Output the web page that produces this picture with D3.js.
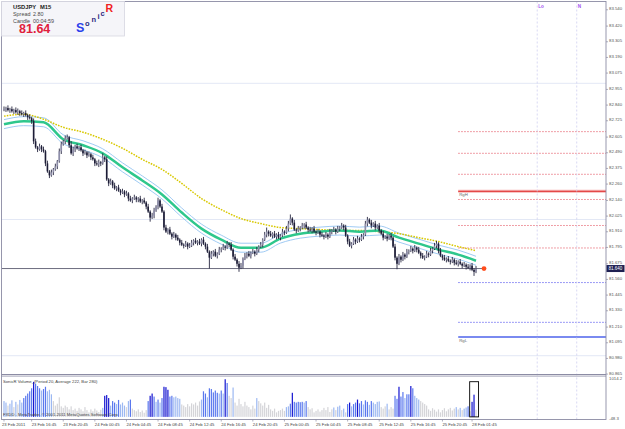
<!DOCTYPE html>
<html>
<head>
<meta charset="utf-8">
<title>USDJPY M15</title>
<script src="https://cdn.jsdelivr.net/npm/d3@7"></script>
<style>
    body { margin: 0; background: #fff; }
    svg { display: block; font-family: "Liberation Sans", Arial, sans-serif; }
</style>
</head>
<body>
<svg width="625" height="429"></svg>
<script>

    // M15 closes, 23 Feb 13:15 .. 28 Feb 02:15
    var closes = [
        82.810, 82.818, 82.803, 82.810, 82.795, 82.803, 82.788, 82.795, 82.781, 82.773,
        82.781, 82.766, 82.751, 82.744, 82.722, 82.574, 82.530, 82.515, 82.537, 82.515,
        82.501, 82.412, 82.353, 82.324, 82.346, 82.368, 82.390, 82.427, 82.501, 82.552,
        82.574, 82.596, 82.604, 82.545, 82.486, 82.515, 82.537, 82.523, 82.530, 82.508,
        82.486, 82.493, 82.471, 82.479, 82.456, 82.442, 82.412, 82.405, 82.420, 82.412,
        82.456, 82.442, 82.294, 82.265, 82.280, 82.250, 82.228, 82.235, 82.213, 82.198,
        82.206, 82.184, 82.191, 82.154, 82.140, 82.154, 82.162, 82.147, 82.154, 82.132,
        82.140, 82.125, 82.095, 82.058, 82.014, 82.029, 82.066, 82.095, 82.140, 82.095,
        82.058, 81.941, 81.911, 81.926, 81.896, 81.874, 81.889, 81.867, 81.852, 81.830,
        81.815, 81.808, 81.823, 81.801, 81.808, 81.830, 81.845, 81.830, 81.838, 81.823,
        81.852, 81.823, 81.801, 81.764, 81.720, 81.749, 81.764, 81.734, 81.749, 81.779,
        81.786, 81.801, 81.793, 81.823, 81.815, 81.779, 81.727, 81.705, 81.675, 81.646,
        81.661, 81.712, 81.734, 81.749, 81.734, 81.756, 81.764, 81.749, 81.779, 81.801,
        81.815, 81.852, 81.889, 81.911, 81.896, 81.882, 81.896, 81.874, 81.889, 81.867,
        81.882, 81.911, 81.904, 81.933, 81.970, 82.007, 81.977, 81.926, 81.919, 81.933,
        81.941, 81.955, 81.963, 81.941, 81.926, 81.919, 81.933, 81.911, 81.904, 81.911,
        81.889, 81.882, 81.874, 81.889, 81.874, 81.911, 81.919, 81.926, 81.911, 81.933,
        81.941, 81.955, 81.941, 81.882, 81.838, 81.808, 81.823, 81.852, 81.838, 81.860,
        81.852, 81.874, 81.889, 81.970, 81.999, 81.977, 81.955, 81.970, 81.941, 81.955,
        81.919, 81.896, 81.867, 81.874, 81.860, 81.882, 81.867, 81.801, 81.720, 81.675,
        81.727, 81.705, 81.742, 81.727, 81.764, 81.771, 81.786, 81.771, 81.793, 81.779,
        81.756, 81.734, 81.720, 81.727, 81.749, 81.742, 81.771, 81.786, 81.808, 81.823,
        81.771, 81.734, 81.720, 81.705, 81.712, 81.697, 81.690, 81.705, 81.683, 81.675,
        81.690, 81.675, 81.661, 81.668, 81.653, 81.646, 81.661, 81.631, 81.616, 81.639
    ];
    var firstOpen = 82.805;

    // wicks above / below the body, in pips
    var wickUp = [
        2,1,2,1,2,1,2,2,1,2, 1,2,1,2,1,2,2,1,2,1, 2,1,2,1,2,1,2,1,2,2, 1,2,2,1,3,2,1,2,1,2,
        1,2,1,2,1,2,1,2,2,1, 3,1,2,1,2,1,2,1,2,1, 2,1,2,1,2,1,2,1,1,2, 1,2,1,2,1,2,2,1,2,1,
        2,1,2,1,2,1,2,1,2,1, 2,1,2,1,2,2,1,2,1,2, 1,2,1,2,1,2,1,2,1,2, 1,2,1,2,1,2,1,2,1,2,
        2,1,2,1,2,1,2,1,2,1, 2,1,2,3,1,2,1,2,1,2, 1,2,1,2,2,3,1,2,1,2, 1,2,1,2,1,2,1,2,1,2,
        1,2,1,2,1,2,1,2,1,2, 1,2,1,2,1,2,1,2,1,2, 1,2,1,2,2,1,2,1,2,1, 2,1,2,1,2,1,2,1,2,1,
        2,1,2,1,2,1,2,1,2,1, 2,1,2,1,2,1,2,1,2,2, 1,2,1,2,1,2,1,2,1,2, 1,2,1,2,1,2,1,2,1,2
    ];
    var wickDn = [
        1,2,1,2,1,2,1,2,2,1, 2,1,2,1,2,2,1,2,1,2, 1,2,1,2,1,2,1,2,1,2, 1,2,1,2,1,2,2,1,2,1,
        2,1,2,1,2,1,2,1,2,2, 1,2,1,2,1,2,1,2,1,2, 1,2,1,2,1,2,1,2,2,1, 2,1,2,1,3,1,2,1,2,1,
        1,2,1,2,1,2,1,2,1,2, 1,2,1,2,1,1,2,1,2,1, 2,1,2,1,8,1,2,1,2,1, 2,1,2,1,2,1,2,1,2,3,
        1,2,1,2,1,2,1,2,1,2, 1,2,1,2,2,1,2,1,2,1, 2,1,2,1,2,1,2,1,2,1, 2,1,2,1,2,1,2,1,2,1,
        2,1,2,1,2,1,2,1,2,1, 2,1,2,1,2,1,2,1,2,1, 2,1,2,1,2,1,2,1,2,1, 2,1,2,1,2,1,2,1,2,4,
        1,2,1,2,1,2,1,2,1,2, 1,2,1,2,1,2,1,2,1,2, 2,1,2,1,2,1,2,1,2,1, 2,1,2,1,2,1,2,1,3,1
    ];

    var volumes = [
        420, 380, 300, 350, 440, 260, 400, 330, 450, 380,
        500, 560, 620, 680, 760, 930, 880, 820, 760, 700,
        740, 800, 680, 720, 600, 420, 300, 350, 520, 280,
        240, 300, 260, 200, 280, 180, 220, 160, 240, 200,
        150, 260, 180, 120, 200, 150, 220, 170, 130, 190,
        240, 560, 580, 500, 300, 420, 380, 340, 450, 330,
        380, 300, 260, 420, 460, 220, 180, 150, 200, 130,
        170, 110, 180, 420, 560, 620, 540, 400, 460, 380,
        500, 800, 790, 720, 540, 560, 520, 540, 500, 480,
        330, 300, 260, 340, 280, 360, 330, 380, 300, 410,
        460, 680, 620, 520, 760, 740, 650, 700, 640, 620,
        700, 620, 1000, 900, 560, 500, 780, 380, 300, 480,
        340, 280, 400, 300, 260, 200, 300, 220, 500, 420,
        360, 300, 380, 240, 320, 200, 160, 220, 120, 160,
        180, 220, 160, 260, 280, 350, 640, 400, 380, 400,
        390, 400, 380, 420, 260, 200, 230, 120, 160, 200,
        140, 180, 240, 180, 260, 130, 200, 250, 180, 270,
        300, 180, 220, 120, 340, 380, 280, 340, 380, 460,
        360, 420, 330, 440, 400, 320, 420, 380, 340, 400,
        410, 260, 220, 280, 350, 200, 260, 220, 560, 480,
        800, 540, 660, 500, 600, 600, 820, 760, 560, 500,
        460, 420, 380, 340, 300, 200, 160, 230, 190, 140,
        200, 120, 180, 230, 150, 200, 240, 170, 220, 260,
        200, 240, 180, 220, 250, 280, 150, 400, 590, 190
    ];

    // moving averages read every 10 bars
    var emaIdx  = [0, 10, 20, 30, 40, 50, 60, 70, 80, 90, 100, 110, 120, 130, 140, 150, 160, 170, 180, 190, 200, 210, 220, 230, 239];
    var emaMid  = [82.700, 82.722, 82.714, 82.589, 82.545, 82.486, 82.383, 82.287, 82.184, 82.051, 81.933, 81.852, 81.793,
                   81.793, 81.860, 81.896, 81.911, 81.919, 81.911, 81.919, 81.867, 81.823, 81.779, 81.742, 81.697];
    var emaHigh = [82.733, 82.755, 82.747, 82.622, 82.578, 82.519, 82.416, 82.320, 82.217, 82.084, 81.966, 81.885, 81.826,
                   81.826, 81.893, 81.929, 81.944, 81.952, 81.944, 81.952, 81.900, 81.856, 81.812, 81.775, 81.730];
    var emaLow  = [82.667, 82.689, 82.681, 82.556, 82.512, 82.453, 82.350, 82.254, 82.151, 82.018, 81.900, 81.819, 81.760,
                   81.760, 81.827, 81.863, 81.878, 81.886, 81.878, 81.886, 81.834, 81.790, 81.746, 81.709, 81.664];
    var emaSlow = [82.759, 82.773, 82.736, 82.677, 82.641, 82.589, 82.523, 82.442, 82.368, 82.265, 82.154, 82.073, 82.007,
                   81.970, 81.941, 81.933, 81.926, 81.919, 81.919, 81.911, 81.896, 81.867, 81.838, 81.801, 81.771];

    var priceTicks = ["83.540", "83.420", "83.305", "83.190", "83.075", "82.955", "82.840", "82.725", "82.605", "82.490",
                      "82.375", "82.260", "82.140", "82.025", "81.910", "81.795", "81.675", "81.560", "81.445", "81.330",
                      "81.210", "81.095", "80.980", "80.865"];
    var volTicks = ["1014.2", "-48.3"];

    var timeIdx = [0, 14, 30, 46, 62, 78, 94, 110, 126, 142, 158, 174, 190, 206, 222, 237];
    var timeLabels = ["23 Feb 2011", "23 Feb 16:45", "23 Feb 20:45", "24 Feb 00:45", "24 Feb 04:45", "24 Feb 08:45",
                      "24 Feb 12:45", "24 Feb 16:45", "24 Feb 20:45", "25 Feb 00:45", "25 Feb 04:45", "25 Feb 08:45",
                      "25 Feb 12:45", "25 Feb 16:45", "25 Feb 20:45", "28 Feb 01:45"];

    var roundLevels = [83.00, 82.00, 81.00];
    var redLevels = [82.645, 82.486, 82.332, 82.147, 81.956, 81.791];
    var blueLevels = [81.537, 81.245];
    var rangeHigh = 82.207, rangeLow = 81.137;
    var levelStart = 230;
    var markIdx = [270, 290], markLabels = ["Lo", "N"];
    var bid = 81.640;

    var svg = d3.select("svg"),
        axisX = 606, frameL = 1.5, frameT = 1.5, mainBot = 374.5, volBot = 419.5;

    var x = d3.scaleLinear().domain([0, 239]).range([4, 476]);
    var y = d3.scaleLinear().domain([80.865, 83.540]).range([374.1, 9.75]);
    var vy = d3.scaleLinear().domain([-48.3, 1014.2]).range([418.7, 378.7]);

    svg.append("defs").append("clipPath").attr("id", "mainClip")
        .append("rect").attr("x", frameL).attr("y", frameT).attr("width", axisX - frameL).attr("height", mainBot - frameT);

    var main = svg.append("g").attr("clip-path", "url(#mainClip)");

    // round price levels
    main.selectAll(".round").data(roundLevels).enter().append("line")
        .attr("x1", frameL).attr("x2", axisX)
        .attr("y1", function (d) { return y(d); }).attr("y2", function (d) { return y(d); })
        .attr("stroke", "#c6d0ea").attr("stroke-width", 1).attr("stroke-dasharray", "1,1");

    // vertical markers
    svg.selectAll(".mark").data(markIdx).enter().append("line")
        .attr("x1", function (d) { return x(d); }).attr("x2", function (d) { return x(d); })
        .attr("y1", frameT).attr("y2", volBot)
        .attr("stroke", "#cfcff0").attr("stroke-width", 0.8).attr("stroke-dasharray", "2,2");
    svg.selectAll(".markText").data(markIdx).enter().append("text")
        .attr("x", function (d) { return x(d) + 1; }).attr("y", 8)
        .attr("font-size", 4.6).attr("font-weight", "bold").attr("fill", "#a050f0")
        .text(function (d, i) { return markLabels[i]; });

    // pivot levels
    main.selectAll(".red").data(redLevels).enter().append("line")
        .attr("x1", x(levelStart)).attr("x2", axisX)
        .attr("y1", function (d) { return y(d); }).attr("y2", function (d) { return y(d); })
        .attr("stroke", "#e8707c").attr("stroke-width", 0.9).attr("stroke-dasharray", "1.5,1.5");
    main.selectAll(".blue").data(blueLevels).enter().append("line")
        .attr("x1", x(levelStart)).attr("x2", axisX)
        .attr("y1", function (d) { return y(d); }).attr("y2", function (d) { return y(d); })
        .attr("stroke", "#6a6af0").attr("stroke-width", 0.9).attr("stroke-dasharray", "1.5,1.5");
    main.append("line").attr("x1", x(levelStart)).attr("x2", axisX)
        .attr("y1", y(rangeHigh)).attr("y2", y(rangeHigh))
        .attr("stroke", "#f6b4b4").attr("stroke-width", 3);
    main.append("line").attr("x1", x(levelStart)).attr("x2", axisX)
        .attr("y1", y(rangeHigh)).attr("y2", y(rangeHigh))
        .attr("stroke", "#e44848").attr("stroke-width", 1.3);
    main.append("line").attr("x1", x(levelStart)).attr("x2", axisX)
        .attr("y1", y(rangeLow)).attr("y2", y(rangeLow))
        .attr("stroke", "#7a8af0").attr("stroke-width", 2);
    main.append("text").attr("x", x(levelStart) + 1).attr("y", y(rangeHigh) + 5)
        .attr("font-size", 4.3).attr("fill", "#666").text("RgH");
    main.append("text").attr("x", x(levelStart) + 1).attr("y", y(rangeLow) + 5)
        .attr("font-size", 4.3).attr("fill", "#666").text("RgL");

    // moving averages
    function maLine(vals) {
        return d3.line()
            .x(function (d) { return x(d); })
            .y(function (d, i) { return y(vals[i]); })
            .curve(d3.curveMonotoneX)(emaIdx);
    }
    main.append("path").attr("d", maLine(emaHigh)).attr("fill", "none").attr("stroke", "#94c4f2").attr("stroke-width", 0.9);
    main.append("path").attr("d", maLine(emaLow)).attr("fill", "none").attr("stroke", "#94c4f2").attr("stroke-width", 0.9);
    main.append("path").attr("d", maLine(emaSlow)).attr("fill", "none").attr("stroke", "#d8c800")
        .attr("stroke-width", 1.5).attr("stroke-dasharray", "1.6,1.2");
    main.append("path").attr("d", maLine(emaMid)).attr("fill", "none").attr("stroke", "#2ec78c").attr("stroke-width", 2.5);

    // bid line
    main.append("line").attr("x1", frameL).attr("x2", x(239) + 8)
        .attr("y1", y(bid)).attr("y2", y(bid)).attr("stroke", "#5c5c72").attr("stroke-width", 0.9);

    // candles
    var bars = closes.map(function (c, i) {
        var o = i ? closes[i - 1] : firstOpen;
        return {i: i, o: o, c: c,
            h: Math.max(o, c) + wickUp[i] / 100,
            l: Math.min(o, c) - wickDn[i] / 100};
    });
    var candle = main.append("g").selectAll("g").data(bars).enter().append("g");
    candle.append("line")
        .attr("x1", function (d) { return x(d.i); }).attr("x2", function (d) { return x(d.i); })
        .attr("y1", function (d) { return y(d.h); }).attr("y2", function (d) { return y(d.l); })
        .attr("stroke", "#262640").attr("stroke-width", 0.9);
    candle.append("rect")
        .attr("x", function (d) { return x(d.i) - 0.8; })
        .attr("width", 1.6)
        .attr("y", function (d) { return y(Math.max(d.o, d.c)); })
        .attr("height", function (d) { return Math.max(0.9, y(Math.min(d.o, d.c)) - y(Math.max(d.o, d.c))); })
        .attr("fill", function (d) { return d.c >= d.o ? "#8e8eaa" : "#1c1c36"; });

    svg.append("circle").attr("cx", x(239) + 8).attr("cy", y(bid)).attr("r", 2.4).attr("fill", "#ff4c1c");

    // volume panel, coloured against the 20-bar average
    function volColor(i) {
        var s = 0, n = 0;
        for (var k = Math.max(0, i - 19); k <= i; k++) { s += volumes[k]; n++; }
        var r = volumes[i] / (s / n);
        if (r >= 1.75) return "#1414d0";
        if (r >= 1.3) return "#5a78ee";
        if (r >= 0.95) return "#9cb8f2";
        return "#d4d4d8";
    }
    svg.append("g").selectAll("rect").data(volumes).enter().append("rect")
        .attr("x", function (d, i) { return x(i) - 0.6; })
        .attr("width", 1.2)
        .attr("y", function (d) { return vy(d); })
        .attr("height", function (d) { return vy(0) - vy(d); })
        .attr("fill", function (d, i) { return volColor(i); });
    svg.append("rect").attr("x", x(235.8)).attr("y", 381.7)
        .attr("width", x(240.3) - x(235.8)).attr("height", vy(0) - 381.7)
        .attr("fill", "none").attr("stroke", "#000").attr("stroke-width", 0.9);

    svg.append("text").attr("x", 3).attr("y", 383).attr("font-size", 4.2).attr("fill", "#404040")
        .text("SonicR Volume_(Period 20, Average 222, Bar 280)");
    svg.append("text").attr("x", 3).attr("y", 415.5).attr("font-size", 4.2).attr("fill", "#404040")
        .text("FXDD - MetaTrader, \u00a9 2001-2011 MetaQuotes Software Corp.");

    // frame, separator
    svg.append("rect").attr("x", frameL).attr("y", frameT).attr("width", axisX - frameL).attr("height", volBot - frameT)
        .attr("fill", "none").attr("stroke", "#8c8ca4").attr("stroke-width", 0.9);
    svg.append("line").attr("x1", frameL).attr("x2", axisX).attr("y1", mainBot).attr("y2", mainBot)
        .attr("stroke", "#8c8ca4").attr("stroke-width", 1);
    svg.append("line").attr("x1", frameL).attr("x2", axisX).attr("y1", mainBot + 1.6).attr("y2", mainBot + 1.6)
        .attr("stroke", "#8c8ca4").attr("stroke-width", 0.8);

    // price axis
    var pAxis = svg.append("g").selectAll("g").data(priceTicks).enter().append("g")
        .attr("transform", function (d) { return "translate(0," + y(+d) + ")"; });
    pAxis.append("line").attr("x1", axisX).attr("x2", axisX + 2).attr("stroke", "#8c8ca4").attr("stroke-width", 0.7);
    pAxis.append("text").attr("x", axisX + 3).attr("y", 0.5).attr("font-size", 4.3).attr("fill", "#555")
        .text(function (d) { return d; });

    svg.append("rect").attr("x", axisX + 0.5).attr("y", y(bid) - 3.5).attr("width", 18).attr("height", 7).attr("fill", "#1e2052");
    svg.append("text").attr("x", axisX + 2.5).attr("y", y(bid) + 1.6).attr("font-size", 4.5).attr("fill", "#fff").text(bid.toFixed(3));

    svg.selectAll(".vt").data(volTicks).enter().append("text")
        .attr("x", axisX + 3).attr("y", function (d) { return vy(+d) + 1.5; })
        .attr("font-size", 4.3).attr("fill", "#555").text(function (d) { return d; });

    // time axis
    svg.selectAll(".tt").data(timeIdx).enter().append("line")
        .attr("x1", function (d) { return x(d); }).attr("x2", function (d) { return x(d); })
        .attr("y1", volBot).attr("y2", volBot + 2).attr("stroke", "#8c8ca4").attr("stroke-width", 0.7);
    svg.selectAll(".tl").data(timeIdx).enter().append("text")
        .attr("x", function (d, i) { return i === 0 ? 2 : x(d); }).attr("y", 426)
        .attr("font-size", 4.2).attr("fill", "#444")
        .text(function (d, i) { return timeLabels[i]; });

    // info box
    svg.append("rect").attr("x", frameL).attr("y", frameT).attr("width", 123).attr("height", 34.5)
        .attr("fill", "#f5f5f9").attr("stroke", "#d6d6e0").attr("stroke-width", 0.8);
    var info = svg.append("g");
    info.append("text").attr("x", 13).attr("y", 9).attr("font-size", 5.8).attr("font-weight", "bold").attr("fill", "#222").text("USDJPY");
    info.append("text").attr("x", 40).attr("y", 9).attr("font-size", 5.8).attr("font-weight", "bold").attr("fill", "#222").text("M15");
    info.append("text").attr("x", 13).attr("y", 16).attr("font-size", 5.4).attr("fill", "#4a4a4a").text("Spread");
    info.append("text").attr("x", 33).attr("y", 16).attr("font-size", 5.4).attr("fill", "#4a4a4a").text("2.80");
    info.append("text").attr("x", 13).attr("y", 22.5).attr("font-size", 5.4).attr("fill", "#4a4a4a").text("Candle");
    info.append("text").attr("x", 33).attr("y", 22.5).attr("font-size", 5.4).attr("fill", "#4a4a4a").text("00:04:59");
    info.append("text").attr("x", 19).attr("y", 33).attr("font-size", 12.5).attr("font-weight", "bold").attr("fill", "#e0203c").text("81.64");

    var logo = [["S", 76, 32, 12.5, "#2a40ec"], ["o", 85, 25.5, 7.5, "#28287e"], ["n", 91.5, 22, 7.5, "#28287e"],
                ["i", 97.5, 18.5, 7.5, "#28287e"], ["c", 100.5, 16, 7.5, "#28287e"], ["R", 105.5, 12, 10.5, "#f02020"]];
    info.selectAll(".logo").data(logo).enter().append("text")
        .attr("x", function (d) { return d[1]; }).attr("y", function (d) { return d[2]; })
        .attr("font-size", function (d) { return d[3]; }).attr("font-weight", "bold")
        .attr("fill", function (d) { return d[4]; })
        .text(function (d) { return d[0]; });

</script>
</body>
</html>
